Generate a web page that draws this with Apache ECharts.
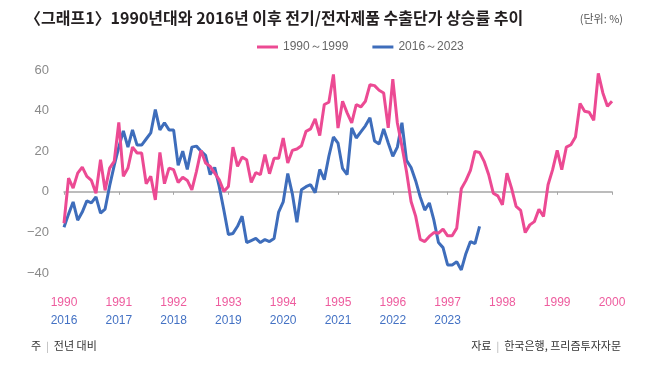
<!DOCTYPE html>
<html>
<head>
<meta charset="utf-8">
<script src="https://cdn.jsdelivr.net/npm/echarts@6/dist/echarts.min.js"></script>
<style>
html,body{margin:0;padding:0;background:#fff;}
#c{width:650px;height:369px;}
</style>
</head>
<body>
<div id="c"></div>
<script>
// ---- data ----
const pinkYears = ['1990','1991','1992','1993','1994','1995','1996','1997','1998','1999','2000'];
const blueYears = ['2016','2017','2018','2019','2020','2021','2022','2023'];
const pinkName = '1990～1999';
const blueName = '2016～2023';
const pinkValues = [
 -15.5, 6.7, 1.8, 9.2, 12.2, 7.6, 5.6, -0.7, 15.8, 0.7, 11.7, 15,
 34.2, 7.6, 11.7, 22, 19.1, 19.1, 4, 7.6, -4, 19.4, 4, 11.7,
 10.9, 4.6, 7.2, 5.6, 1, 10, 20.4, 14.2, 12.5, 9.2, 5.9, 0.2,
 2.6, 22, 12.5, 17.1, 15.8, 4.6, 9.5, 8.4, 18.3, 8.9, 16.5, 16.5,
 26.5, 14.2, 20.4, 21.1, 22.7, 29.8, 31, 35.9, 27.7, 43, 44.1, 57.8,
 31.4, 44.6, 38.9, 33.9, 43, 41.8, 44.6, 52.8, 52.3, 50, 48.7, 31.5,
 55.5, 33.9, 22.4, 10, -4.8, -12, -23.4, -24.5, -22, -20.1, -20.4, -18.4,
 -21.7, -21.7, -17.9, 1.5, 5.5, 10.5, 19.9, 19.4, 15, 8.4, -0.7, -2,
 -6.4, 9.2, 1.8, -7.2, -9.2, -20.1, -16.3, -14.7, -8.6, -12.2, 3.5, 10.9,
 20.4, 10.9, 22, 23.2, 27, 43.5, 39.7, 39.2, 35.2, 58.3, 48.7, 42.1,
 44.6
];
const blueValues = [
 -17.5, -11, -5, -14, -10, -4.5, -5.5, -2.5, -10.5, -8.5, 3, 13,
 22, 30, 22, 30.5, 23, 23, 26, 29, 40.5, 30.5, 34, 30.5,
 30.5, 13, 20, 11, 22, 22.5, 20, 18, 8.5, 12, 2.5, -9,
 -21, -20.5, -17, -12, -25, -24, -23, -25, -23.5, -24.5, -23, -10,
 -5, 9, -1, -15, 1, 2.5, 3.5, -0.5, 11, 6, 17.5, 27,
 24, 11.5, 8.5, 31.5, 26.5, 29.5, 32.5, 36.5, 25, 23.5, 31, 24,
 17.5, 22, 34, 15.5, 12, 5.5, -2.5, -9, -5.5, -14, -25, -27.5,
 -36, -36, -34.5, -38.5, -30.5, -24.5, -25.5, -17
];
const yTicks = { min: -40, max: 60, step: 20 };

// month categories: Jan of first pink year through Jan of last pink year
const months = [];
for (let y = 0; y < pinkYears.length - 1; y++) {
  for (let m = 1; m <= 12; m++) months.push(pinkYears[y] + '-' + String(m).padStart(2, '0'));
}
months.push(pinkYears[pinkYears.length - 1] + '-01');

const PINK = '#EC4A93';
const BLUE = '#3E6DBB';
const FONT = '"Noto Sans CJK KR", "Noto Sans", sans-serif';
const NUMFONT = '"Liberation Sans", Arial, sans-serif';

const chart = echarts.init(document.getElementById('c'), null, { renderer: 'canvas' });
chart.setOption({
  animation: false,
  backgroundColor: '#fff',
  title: [
    { text: '〈그래프1〉1990년대와 2016년 이후 전기/전자제품 수출단가 상승률 추이',
      left: 20, top: 5,
      textStyle: { fontFamily: FONT, fontSize: 16, fontWeight: 'bold', color: '#231f20' } },
    { text: '(단위: %)', right: 22, top: 8,
      textStyle: { fontFamily: FONT, fontSize: 11, fontWeight: 'normal', color: '#555' } },
    { text: '{a|주} {s||} {a|전년 대비}', left: 26, top: 332,
      textStyle: { fontWeight: 'normal', rich: {
        a: { fontFamily: FONT, fontSize: 11, fontWeight: 'normal', color: '#333' },
        s: { fontFamily: FONT, fontSize: 10, fontWeight: 'normal', color: '#aaa' } } } },
    { text: '{a|자료} {s||} {a|한국은행, 프리즘투자자문}', right: 24, top: 332,
      textStyle: { fontWeight: 'normal', rich: {
        a: { fontFamily: FONT, fontSize: 11, fontWeight: 'normal', color: '#333' },
        s: { fontFamily: FONT, fontSize: 10, fontWeight: 'normal', color: '#aaa' } } } }
  ],
  legend: {
    data: [pinkName, blueName],
    left: 252, top: 36,
    icon: 'rect', itemWidth: 21, itemHeight: 3, itemGap: 24,
    textStyle: { fontFamily: NUMFONT, fontSize: 12, color: '#666' }
  },
  grid: { left: 64, right: 38, top: 70, bottom: 96, containLabel: false },
  xAxis: [
    { type: 'category', data: months, boundaryGap: false,
      axisLine: { onZero: true, lineStyle: { color: '#a6a6a6', width: 1.5 } },
      axisTick: { show: true, length: 3, interval: (i) => i % 12 === 0, lineStyle: { color: '#a6a6a6', width: 1 } },
      axisLabel: { show: false }, splitLine: { show: false } },
    { type: 'category', data: months, boundaryGap: false, position: 'bottom',
      axisLine: { show: false, onZero: false }, axisTick: { show: false }, splitLine: { show: false },
      axisLabel: {
        interval: (i) => i % 12 === 0, margin: 21,
        formatter: (v, idx) => {
          const k = Math.round(idx / 12);
          let s = '{p|' + pinkYears[k] + '}';
          if (blueYears[k]) s += '\n{b|' + blueYears[k] + '}';
          return s;
        },
        rich: {
          p: { fontFamily: NUMFONT, fontSize: 12, color: '#EE5C9E', lineHeight: 18 },
          b: { fontFamily: NUMFONT, fontSize: 12, color: '#4472C4', lineHeight: 18 }
        }
      } }
  ],
  yAxis: {
    type: 'value', min: yTicks.min, max: yTicks.max, interval: yTicks.step,
    axisLine: { show: false }, axisTick: { show: false }, splitLine: { show: false },
    axisLabel: { margin: 15, fontFamily: NUMFONT, fontSize: 13, color: '#8a8a8a',
      formatter: (v) => String(v).replace('-', '−') }
  },
  series: [
    { name: blueName, type: 'line', xAxisIndex: 0, data: blueValues, showSymbol: false,
      lineStyle: { color: BLUE, width: 3 }, itemStyle: { color: BLUE }, z: 2 },
    { name: pinkName, type: 'line', xAxisIndex: 0, data: pinkValues, showSymbol: false,
      lineStyle: { color: PINK, width: 3 }, itemStyle: { color: PINK }, z: 3 }
  ]
});
</script>
</body>
</html>
